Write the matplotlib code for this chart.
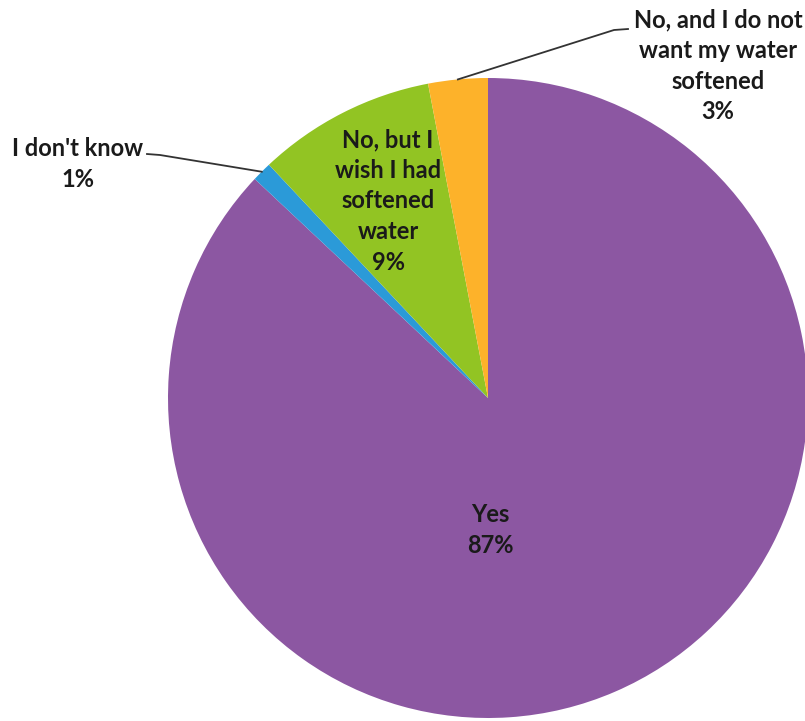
import numpy as np
import matplotlib
matplotlib.use('Agg')
from matplotlib import pyplot as plt

labels = ['Yes', "I don't know", 'No, but I\nwish I had\nsoftened\nwater', 'No, and I do not\nwant my water\nsoftened']
values = [87, 1, 9, 3]
colors = ['#8c57a2', '#2b9ad8', '#92c423', '#fdb22a']

W, H = 805, 721
cx, cy, R = 488, H - 398, 320


def edge_point(w, r=R):
    ang = np.deg2rad((w.theta1 + w.theta2) / 2)
    return cx + r * np.cos(ang), cy + r * np.sin(ang)


def main():
    plt.rcParams['font.family'] = ['Lato', 'DejaVu Sans']
    fig = plt.figure(figsize=(W / 100, H / 100), dpi=100)
    ax = fig.add_axes([0, 0, 1, 1])

    wedges, _ = ax.pie(values, colors=colors, startangle=90, counterclock=False,
                       center=(cx, cy), radius=R, frame=True,
                       wedgeprops=dict(linewidth=0))
    ax.set_xlim(0, W)
    ax.set_ylim(0, H)
    ax.set_aspect('equal')
    ax.axis('off')

    txt = dict(ha='center', va='center', fontsize=17, fontweight='bold',
               color='#1a1a1a', linespacing=1.4)

    # Yes (inside)
    ax.text(490, H - 530, '{}\n{}%'.format(labels[0], values[0]), **txt)

    # No, but I wish (inside)
    ax.text(388, H - 201, '{}\n{}%'.format(labels[2], values[2]), **txt)

    # I don't know (outside with leader)
    x0, y0 = edge_point(wedges[1])
    ax.plot([147, 160, x0], [H - 154, H - 155, y0], color='#333333', lw=1.3)
    ax.text(78, H - 164, '{}\n{}%'.format(labels[1], values[1]), **txt)

    # No, and I do not (outside with leader)
    x1, y1 = edge_point(wedges[3])
    ax.plot([x1, 614, 628], [y1, H - 30, H - 29], color='#333333', lw=1.3)
    ax.text(718, H - 66, '{}\n{}%'.format(labels[3], values[3]), **txt)

    fig.savefig('out.png', dpi=100)


if __name__ == '__main__':
    main()
